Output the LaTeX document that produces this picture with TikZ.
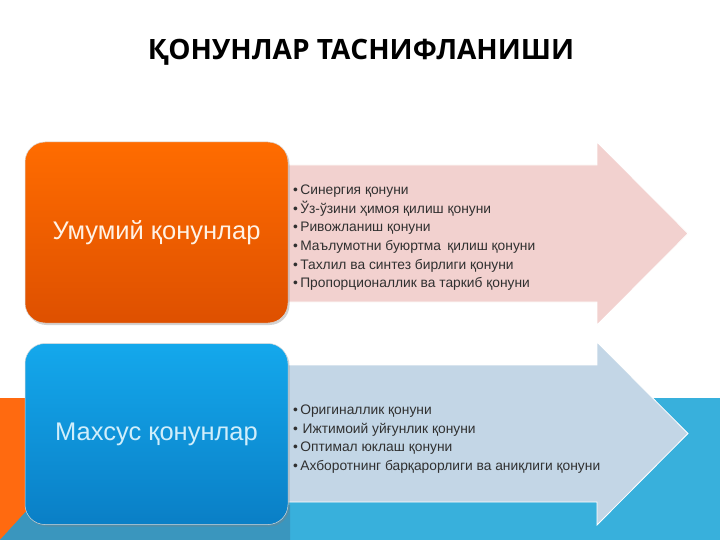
\documentclass[tikz,border=0pt]{standalone}
\usepackage{fontspec}
\setmainfont{Liberation Sans}
\newfontfamily\titlefont{Open Sans}
\usetikzlibrary{shadows}
\definecolor{bandblue}{HTML}{38B0DC}
\definecolor{banddark}{HTML}{3A96BE}
\definecolor{bandorange}{HTML}{FF6A10}
\definecolor{orangetop}{HTML}{FF6C00}
\definecolor{orangebot}{HTML}{DE5000}
\definecolor{bluetop}{HTML}{14A8EC}
\definecolor{bluebot}{HTML}{0A7FC6}
\definecolor{pinkfill}{HTML}{F2D1CF}
\definecolor{bluefill}{HTML}{C3D6E6}
\definecolor{listgray}{HTML}{303030}
\tikzset{
  catbox/.style={rounded corners=20pt, minimum width=263pt, minimum height=181pt,
    draw=white!70!gray, line width=0.5pt, drop shadow={shadow xshift=1.5pt, shadow yshift=-2pt, opacity=0.35},
    font=\fontsize{25.5}{28}\selectfont},
  arrowshape/.style={draw=white, line width=0.8pt},
  item/.style={anchor=base west, inner sep=0pt, text=listgray, font=\fontsize{13.8}{15}\selectfont}
}
\begin{document}
\begin{tikzpicture}[x=1pt,y=-1pt]
\useasboundingbox (0,0) rectangle (720,540);
\fill[white] (0,0) rectangle (720,540);
% bottom band
\fill[bandblue] (0,398) rectangle (720,540);
\fill[bandorange] (0,398) -- (32,398) -- (32,505) -- (0,540) -- cycle;
\fill[banddark] (0,540) -- (32,505) -- (290,505) -- (290,540) -- cycle;
% title
\node[font=\titlefont\bfseries\fontsize{28}{31}\selectfont, anchor=base] (title) at (361,60) {ҚОНУНЛАР ТАСНИФЛАНИШИ};
% arrows
\draw[arrowshape, fill=pinkfill] (270,165) -- (597,165) -- (597,142) -- (688,233.5) -- (597,325) -- (597,302) -- (270,302) -- cycle;
\draw[arrowshape, fill=bluefill] (270,365) -- (597,365) -- (597,342) -- (688,433.5) -- (597,525) -- (597,502) -- (270,502) -- cycle;
% category boxes
\node[catbox, top color=orangetop, bottom color=orangebot, text=white!90!orange] (general) at (156.5,232.5) {Умумий қонунлар};
\node[catbox, top color=bluetop, bottom color=bluebot, text=white!80!bluetop] (special) at (156.5,434) {Махсус қонунлар};
% general laws
\node[item] (g1) at (293,195) {•\,Синергия қонуни};
\node[item] (g2) at (293,213.5) {•\,Ўз-ўзини ҳимоя қилиш қонуни};
\node[item] (g3) at (293,232) {•\,Ривожланиш қонуни};
\node[item] (g4) at (293,250.5) {•\,Маълумотни буюртма \,қилиш қонуни};
\node[item] (g5) at (293,269) {•\,Тахлил ва синтез бирлиги қонуни};
\node[item] (g6) at (293,287.5) {•\,Пропорционаллик ва таркиб қонуни};
% special laws
\node[item] (s1) at (293,414.5) {•\,Оригиналлик қонуни};
\node[item] (s2) at (293,433) {•\,\,Ижтимоий уйғунлик қонуни};
\node[item] (s3) at (293,451.5) {•\,Оптимал юклаш қонуни};
\node[item] (s4) at (293,470) {•\,Ахборотнинг барқарорлиги ва аниқлиги қонуни};
\end{tikzpicture}
\end{document}
